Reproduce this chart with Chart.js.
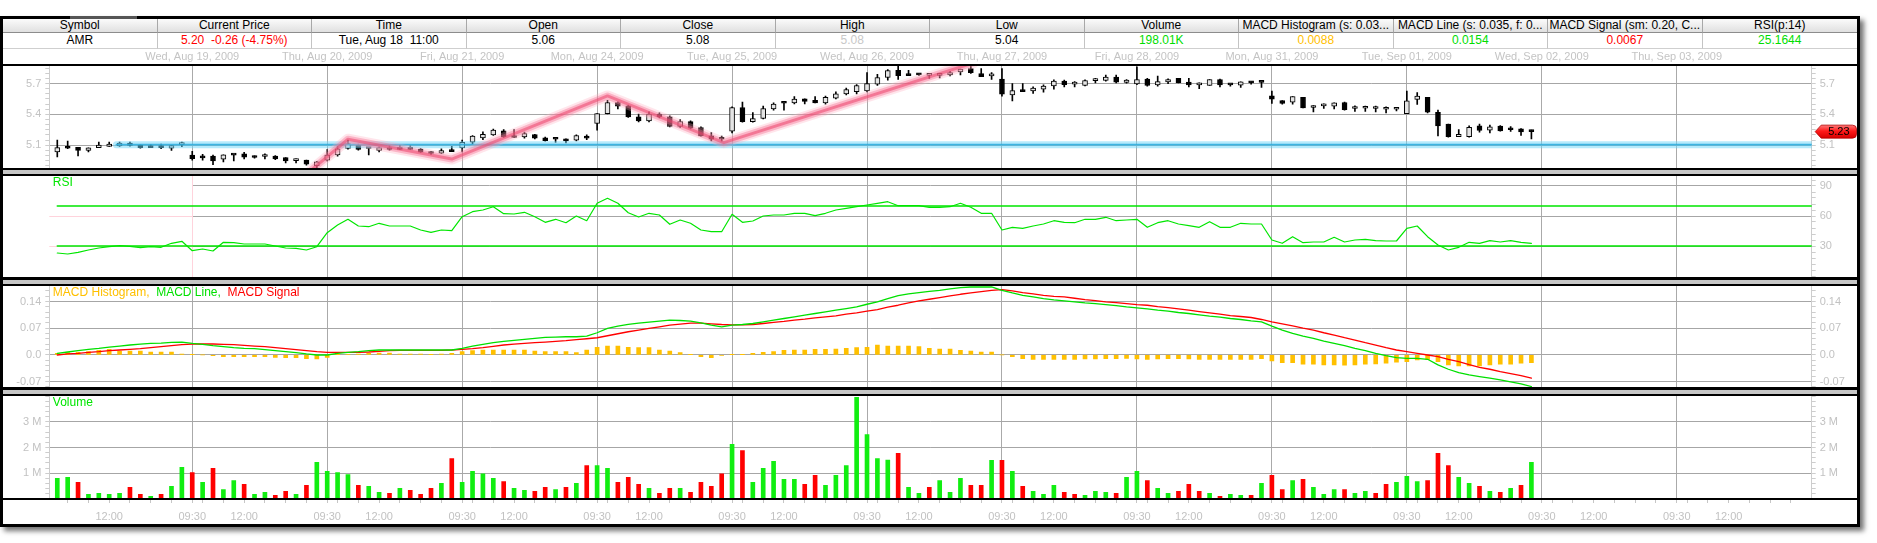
<!DOCTYPE html>
<html><head><meta charset="utf-8">
<script src="https://cdn.jsdelivr.net/npm/chart.js@4.4.1/dist/chart.umd.min.js"></script>
<style>
html,body{margin:0;padding:0;background:#fff;}
body{width:1877px;height:543px;overflow:hidden;position:relative;font-family:"Liberation Sans",Arial,sans-serif;}
#frame{position:absolute;left:0;top:16px;width:1854px;height:505px;border:3px solid #000;box-shadow:4px 4px 5px rgba(0,0,0,0.55);background:#fff;}
.hc{position:absolute;box-sizing:border-box;text-align:center;font-size:12px;white-space:pre;overflow:hidden;color:#000;}
.r1{top:19px;height:14px;line-height:13px;background:linear-gradient(#fbfbfb,#e0e0e0);border-right:1px solid #a8a8a8;border-bottom:1px solid #8c8c8c;}
.r2{top:33px;height:16px;line-height:15px;background:#fff;border-right:1px solid #c4c4c4;border-bottom:1px solid #cfcfcf;}
canvas{position:absolute;left:3px;}
.sb{position:absolute;left:3px;width:1854px;background:#000;}
.sg{position:absolute;left:3px;width:1854px;background:#c6c6c6;}
</style></head><body>
<div id="frame"></div>
<div style="position:absolute;left:70px;top:16px;width:67px;height:4px;background:#555;"></div>
<div id="hdr"></div>
<canvas id="cPrice" width="1854" height="120" style="top:48px"></canvas>
<canvas id="cRsi" width="1854" height="101" style="top:176px"></canvas>
<canvas id="cMacd" width="1854" height="101" style="top:286px"></canvas>
<canvas id="cVol" width="1854" height="126" style="top:396px"></canvas>
<div class="sb" style="top:64px;height:2px"></div>
<div class="sb" style="top:168px;height:2px"></div>
<div class="sg" style="top:170px;height:4px"></div>
<div class="sb" style="top:174px;height:2px"></div>
<div class="sb" style="top:277px;height:3px"></div>
<div class="sg" style="top:280px;height:4px"></div>
<div class="sb" style="top:284px;height:2px"></div>
<div class="sb" style="top:387px;height:3px"></div>
<div class="sg" style="top:390px;height:4px"></div>
<div class="sb" style="top:394px;height:2px"></div>
<div class="sb" style="top:498px;height:2px"></div>
<script>
// ---------------- DATA ----------------
const headerTitles = ['Symbol','Current Price','Time','Open','Close','High','Low','Volume','MACD Histogram (s: 0.03...','MACD Line (s: 0.035, f: 0...','MACD Signal (sm: 0.20, C...','RSI(p:14)'];
const headerValues = ['AMR','5.20  -0.26 (-4.75%)','Tue, Aug 18  11:00','5.06','5.08','5.08','5.04','198.01K','0.0088','0.0154','0.0067','25.1644'];
const headerColors = ['#000','#ff0000','#000','#000','#000','#c8c8c8','#000','#00dd00','#ffc000','#00dd00','#ff0000','#00dd00'];

const barsPerDay = 13;
const xMin = -0.77, xMax = 169;
const dayNames = ['Tue, Aug 18, 2009','Wed, Aug 19, 2009','Thu, Aug 20, 2009','Fri, Aug 21, 2009','Mon, Aug 24, 2009','Tue, Aug 25, 2009','Wed, Aug 26, 2009','Thu, Aug 27, 2009','Fri, Aug 28, 2009','Mon, Aug 31, 2009','Tue, Sep 01, 2009','Wed, Sep 02, 2009','Thu, Sep 03, 2009'];
const timeTickOffsets = [0,1,3,5,7,9,11];
const timeTickLabels = {0:'09:30', 5:'12:00'};

const opens = [
5.035,5.075,5.08,5.05,5.077,5.087,5.094,5.12,5.1,5.09,5.094,5.07,5.105,
5.003,4.993,4.993,4.964,5.006,5.016,4.993,4.99,4.993,4.98,4.95,4.954,4.9,
4.954,5.006,5.068,5.1,5.07,5.048,5.07,5.061,5.061,5.061,5.035,5.022,5.048,
5.074,5.129,5.171,5.2,5.24,5.184,5.181,5.204,5.171,5.162,5.162,5.149,5.188,
5.311,5.408,5.516,5.483,5.376,5.337,5.402,5.376,5.282,5.33,5.272,5.19,5.162,
5.236,5.467,5.33,5.36,5.454,5.512,5.512,5.551,5.538,5.512,5.558,5.6,5.622,
5.629,5.694,5.759,5.83,5.785,5.798,5.78,5.78,5.785,5.814,5.847,5.798,5.775,
5.743,5.59,5.632,5.629,5.645,5.678,5.723,5.695,5.681,5.728,5.73,5.762,5.71,
5.697,5.743,5.688,5.717,5.75,5.714,5.688,5.681,5.74,5.69,5.684,5.72,5.714,
5.58,5.535,5.519,5.567,5.467,5.483,5.48,5.516,5.457,5.46,5.457,5.45,5.45,
5.408,5.545,5.567,5.421,5.305,5.184,5.184,5.288,5.246,5.285,5.266,5.259,5.246];
const highs = [
5.149,5.14,5.08,5.075,5.13,5.13,5.13,5.13,5.103,5.106,5.11,5.097,5.13,
5.04,5.01,5.003,5.006,5.006,5.03,4.996,5.016,5.0,4.98,4.967,4.954,4.944,
5.058,5.09,5.149,5.11,5.072,5.084,5.097,5.1,5.097,5.068,5.038,5.064,5.09,
5.149,5.194,5.23,5.256,5.253,5.253,5.227,5.207,5.178,5.162,5.162,5.2,5.2,
5.408,5.538,5.522,5.49,5.402,5.425,5.415,5.386,5.35,5.337,5.279,5.223,5.188,
5.473,5.519,5.418,5.48,5.512,5.512,5.574,5.551,5.574,5.577,5.62,5.655,5.69,
5.807,5.79,5.837,5.87,5.83,5.798,5.798,5.798,5.818,5.84,5.87,5.847,5.808,
5.847,5.7,5.7,5.668,5.688,5.736,5.733,5.72,5.736,5.75,5.782,5.782,5.74,
5.863,5.75,5.772,5.746,5.75,5.75,5.707,5.74,5.743,5.69,5.717,5.72,5.714,
5.626,5.535,5.574,5.567,5.486,5.503,5.512,5.519,5.483,5.48,5.48,5.473,5.467,
5.626,5.613,5.567,5.441,5.305,5.253,5.288,5.305,5.295,5.292,5.282,5.262,5.246];
const lows = [
4.986,5.065,4.995,5.035,5.077,5.087,5.087,5.09,5.07,5.077,5.065,5.05,5.085,
4.954,4.954,4.91,4.938,4.947,4.967,4.974,4.967,4.96,4.928,4.928,4.905,4.873,
4.947,4.993,5.061,5.052,5.006,5.035,5.052,5.058,5.058,5.029,5.009,5.019,5.038,
5.035,5.11,5.155,5.194,5.175,5.175,5.168,5.162,5.139,5.126,5.123,5.142,5.155,
5.246,5.405,5.454,5.37,5.327,5.327,5.366,5.279,5.272,5.259,5.188,5.142,5.139,
5.22,5.324,5.324,5.356,5.441,5.441,5.503,5.503,5.512,5.5,5.551,5.59,5.6,
5.619,5.681,5.733,5.74,5.778,5.78,5.75,5.756,5.775,5.785,5.798,5.766,5.74,
5.577,5.532,5.622,5.603,5.616,5.645,5.668,5.668,5.678,5.707,5.723,5.707,5.704,
5.69,5.675,5.675,5.7,5.707,5.668,5.65,5.681,5.668,5.675,5.662,5.694,5.662,
5.506,5.5,5.5,5.464,5.425,5.457,5.454,5.441,5.428,5.428,5.425,5.415,5.434,
5.408,5.496,5.415,5.19,5.178,5.184,5.178,5.227,5.22,5.236,5.233,5.194,5.162];
const closes = [
5.077,5.07,5.05,5.075,5.1,5.11,5.12,5.097,5.077,5.077,5.077,5.097,5.107,
4.97,4.977,4.947,5.006,5.003,4.983,4.98,4.993,4.967,4.947,4.952,4.915,4.937,
5.003,5.064,5.116,5.058,5.068,5.077,5.058,5.06,5.06,5.032,5.019,5.048,5.038,
5.129,5.188,5.207,5.246,5.181,5.175,5.214,5.168,5.145,5.158,5.142,5.194,5.168,
5.408,5.516,5.48,5.376,5.337,5.402,5.376,5.282,5.33,5.266,5.19,5.158,5.158,
5.467,5.33,5.36,5.457,5.5,5.508,5.548,5.525,5.512,5.567,5.6,5.642,5.681,
5.7,5.759,5.827,5.778,5.778,5.785,5.782,5.785,5.808,5.84,5.805,5.766,5.775,
5.597,5.632,5.622,5.655,5.675,5.723,5.69,5.697,5.73,5.73,5.762,5.714,5.733,
5.74,5.681,5.72,5.74,5.707,5.688,5.69,5.74,5.688,5.688,5.717,5.707,5.712,
5.548,5.506,5.574,5.464,5.469,5.485,5.512,5.447,5.459,5.462,5.459,5.452,5.452,
5.532,5.577,5.421,5.288,5.184,5.207,5.275,5.243,5.279,5.24,5.25,5.23,5.232];

const zigzagX = [24.5, 28, 38, 53, 64.2, 88.2];
const zigzagY = [4.86, 5.158, 4.965, 5.58, 5.125, 5.90];
const supportLevel = 5.105, supportStartX = 5.7;

const rsi = [
23,22,23.7,26,28,29.3,30.3,29.7,28.3,29.3,28.7,32.7,34.7,
25.3,27,25,33.7,33.3,32,32,32,30,28,27.7,26,29.3,
43.3,51,56.7,50,49.3,52.7,50,50,50,46,43.7,46,45.3,
59.3,64.3,66,69.3,62.3,62,63.7,59.3,53.7,56.7,53.3,60,55.3,
72.7,77.7,72.7,63.3,59,62.7,61,51.7,56,52.7,46,44.3,44.3,
61.7,53.7,55,60,61,61,62.7,62.7,60.3,62.7,66,67.7,69.3,
71,72.7,74.3,70.3,70.3,70.3,68.7,68.7,69.3,72.7,68.7,62.7,62.7,
46,48.7,47.7,50,52,55.3,53.7,53.3,56.7,56.7,58.7,55.3,56,
56.7,48.7,53.3,55.3,52,50.3,48.7,54.3,48.7,48.7,52.7,52,52,
36,32.7,39.3,33.3,34,34,38.7,34,36,36.7,35.3,35,35,
47.7,50,39.3,31,26,28.7,33.7,32.7,35.3,34,35.3,33.7,32.7];
const rsiBands = [70, 30];

const macdLine = [
0.0041,0.0076,0.0111,0.0145,0.0172,0.0206,0.0232,0.0259,0.0285,0.0302,0.0311,0.0328,0.0337,
0.0302,0.0276,0.0241,0.0215,0.0189,0.0172,0.0163,0.0137,0.0111,0.0084,0.0058,0.0024,-0.0003,
-0.0003,0.0041,0.0067,0.0084,0.0111,0.0128,0.0128,0.0128,0.0128,0.0128,0.0128,0.0128,0.0128,
0.0172,0.0232,0.0276,0.0320,0.0354,0.0380,0.0407,0.0433,0.0459,0.0468,0.0476,0.0476,0.0494,
0.0581,0.0694,0.0755,0.0798,0.0833,0.0859,0.0885,0.0912,0.0903,0.0885,0.0842,0.0781,0.0737,
0.0781,0.0798,0.0824,0.0868,0.0912,0.0955,0.0999,0.1042,0.1086,0.1129,0.1173,0.1216,0.1260,
0.1329,0.1390,0.1477,0.1556,0.1599,0.1634,0.1669,0.1695,0.1730,0.1765,0.1782,0.1782,0.1782,
0.1695,0.1625,0.1564,0.1521,0.1477,0.1443,0.1416,0.1390,0.1364,0.1347,0.1321,0.1295,0.1260,
0.1234,0.1208,0.1173,0.1147,0.1112,0.1086,0.1051,0.1016,0.0990,0.0955,0.0929,0.0894,0.0868,
0.0755,0.0650,0.0563,0.0494,0.0433,0.0363,0.0302,0.0241,0.0172,0.0111,0.0041,-0.0020,-0.0072,
-0.0090,-0.0090,-0.0116,-0.0264,-0.0377,-0.0464,-0.0525,-0.0568,-0.0612,-0.0656,-0.0708,-0.0760,-0.0830];
const macdSignal = [
-0.0003,0.0024,0.0041,0.0067,0.0084,0.0111,0.0128,0.0145,0.0163,0.0189,0.0215,0.0241,0.0267,
0.0285,0.0285,0.0285,0.0276,0.0267,0.0250,0.0232,0.0215,0.0189,0.0163,0.0137,0.0111,0.0084,
0.0067,0.0067,0.0067,0.0067,0.0076,0.0093,0.0111,0.0119,0.0119,0.0119,0.0119,0.0119,0.0128,
0.0145,0.0163,0.0189,0.0224,0.0259,0.0285,0.0302,0.0320,0.0337,0.0354,0.0372,0.0398,0.0424,
0.0450,0.0502,0.0555,0.0607,0.0650,0.0694,0.0737,0.0781,0.0807,0.0833,0.0833,0.0816,0.0798,
0.0790,0.0790,0.0798,0.0824,0.0851,0.0877,0.0912,0.0938,0.0972,0.0999,0.1025,0.1068,0.1103,
0.1147,0.1190,0.1251,0.1303,0.1364,0.1416,0.1460,0.1504,0.1547,0.1591,0.1625,0.1660,0.1695,
0.1712,0.1678,0.1634,0.1599,0.1564,0.1538,0.1521,0.1486,0.1451,0.1425,0.1390,0.1373,0.1347,
0.1321,0.1303,0.1268,0.1242,0.1208,0.1173,0.1138,0.1103,0.1068,0.1033,0.1007,0.0981,0.0929,
0.0868,0.0816,0.0763,0.0703,0.0650,0.0581,0.0520,0.0450,0.0389,0.0320,0.0259,0.0189,0.0128,
0.0084,0.0041,-0.0003,-0.0046,-0.0116,-0.0177,-0.0255,-0.0325,-0.0377,-0.0438,-0.0490,-0.0542,-0.0612];
const macdHist = [
0.0041,0.0058,0.0067,0.0084,0.0119,0.0145,0.0102,0.0102,0.0102,0.0076,0.0076,0.0076,0.0024,
0.0006,0,-0.0020,-0.0046,-0.0046,-0.0046,-0.0046,-0.0046,-0.0064,-0.0072,-0.0072,-0.0098,-0.0107,
-0.0064,0.0006,0.0015,0.0024,0.0041,0.0050,0.0050,0.0024,0.0024,0.0024,0.0006,0.0024,0.0041,
0.0084,0.0111,0.0128,0.0128,0.0128,0.0128,0.0128,0.0102,0.0084,0.0084,0.0084,0.0058,0.0128,
0.0198,0.0232,0.0232,0.0198,0.0189,0.0189,0.0128,0.0102,0.0058,0.0006,-0.0046,-0.0072,-0.0011,
0.0006,0.0006,0.0041,0.0067,0.0084,0.0119,0.0128,0.0128,0.0145,0.0145,0.0154,0.0172,0.0189,
0.0198,0.0259,0.0232,0.0232,0.0232,0.0215,0.0172,0.0154,0.0154,0.0119,0.0102,0.0076,0.0076,
0,-0.0046,-0.0098,-0.0116,-0.0116,-0.0116,-0.0116,-0.0116,-0.0107,-0.0107,-0.0098,-0.0098,-0.0090,
-0.0107,-0.0116,-0.0107,-0.0098,-0.0098,-0.0107,-0.0116,-0.0116,-0.0116,-0.0116,-0.0116,-0.0116,-0.0098,
-0.0159,-0.0203,-0.0203,-0.0246,-0.0246,-0.0264,-0.0264,-0.0272,-0.0264,-0.0246,-0.0238,-0.0220,-0.0194,
-0.0177,-0.0133,-0.0116,-0.0177,-0.0264,-0.0290,-0.0290,-0.0290,-0.0264,-0.0246,-0.0246,-0.0220,-0.0203];

const volumes = [
0.8,0.84,0.65,0.18,0.22,0.18,0.22,0.45,0.18,0.1,0.18,0.49,1.23,
1.03,0.65,1.19,0.37,0.72,0.57,0.18,0.26,0.14,0.3,0.18,0.53,1.42,
1.07,1.03,0.95,0.53,0.49,0.26,0.22,0.41,0.34,0.18,0.41,0.61,1.57,
0.65,1.07,0.98,0.8,0.68,0.41,0.34,0.3,0.45,0.37,0.45,0.61,1.3,
1.3,1.19,0.65,0.84,0.57,0.41,0.22,0.41,0.41,0.26,0.65,0.49,0.98,
2.12,1.88,0.65,1.19,1.46,0.76,0.76,0.57,0.92,0.53,0.92,1.3,3.95,
2.5,1.57,1.51,1.77,0.45,0.22,0.45,0.72,0.26,0.8,0.53,0.53,1.5,
1.5,1.07,0.49,0.3,0.18,0.53,0.26,0.18,0.14,0.3,0.26,0.22,0.84,
1.07,0.72,0.41,0.22,0.3,0.57,0.3,0.22,0.1,0.18,0.14,0.14,0.61,
0.92,0.37,0.72,0.76,0.45,0.18,0.37,0.37,0.22,0.3,0.22,0.57,0.65,
0.88,0.68,0.72,1.77,1.3,0.84,0.61,0.49,0.3,0.26,0.41,0.53,1.42];
const volumeUp = [
1,1,0,1,1,1,1,0,0,1,0,1,1,
0,1,0,1,1,0,1,1,0,0,1,0,1,
1,1,1,0,1,1,0,1,0,0,0,1,0,
1,1,1,1,0,1,1,0,0,1,0,1,0,
1,1,0,0,0,1,0,0,1,0,0,0,0,
1,0,1,1,1,1,1,0,0,1,1,1,1,
1,1,1,0,1,1,0,1,1,1,0,0,1,
0,1,0,1,1,1,0,0,1,1,1,0,1,
1,0,1,1,0,0,0,1,0,1,1,0,1,
0,0,1,0,1,1,1,0,1,1,0,0,1,
1,1,0,0,0,1,1,0,1,0,1,0,1];

const priceRange = [4.878, 5.871];
const rsiRange = [-1, 100];
const macdRange = [-0.0843, 0.1808];
const volRange = [0, 4];
const priceTickSpec = {step:0.05, majors:[5.1,5.4,5.7], labels:['5.1','5.4','5.7']};
const rsiTickSpec = {step:6, majors:[30,60,90], labels:['30','60','90']};
const macdTickSpec = {step:0.014, majors:[-0.07,0,0.07,0.14], labels:['-0.07','0.0','0.07','0.14']};
const volTickSpec = {step:0.2, majors:[1,2,3], labels:['1 M','2 M','3 M']};

// ---------------- HEADER ----------------
(function(){
  const hdr = document.getElementById('hdr');
  const cw = 1854/12;
  headerTitles.forEach((t,i)=>{
    const a = document.createElement('div');
    a.className='hc r1'; a.style.left=(3+i*cw)+'px'; a.style.width=cw+'px';
    if(i===11) a.style.borderRight='none';
    a.textContent=t; hdr.appendChild(a);
    const b = document.createElement('div');
    b.className='hc r2'; b.style.left=(3+i*cw)+'px'; b.style.width=cw+'px';
    if(i===11) b.style.borderRight='none';
    b.style.color=headerColors[i]; b.textContent=headerValues[i]; hdr.appendChild(b);
  });
})();

// ---------------- HELPERS ----------------
const FONT_FAMILY = '"Liberation Sans", Arial, sans-serif';
const TICK_FONT = {family:FONT_FAMILY, size:11};
const TICK_COLOR = '#c2c2c2', AXIS_COLOR = '#cdcdcd', GRID_COLOR = '#a6a6a6', VGRID_COLOR = '#aaaaaa';
const GREEN = '#00e600', RED = '#ff0000', ORANGE = '#ffc000';
const LEFT_W = 46.3, RIGHT_W = 45.3;
const N = opens.length;
const idx = Array.from({length:N}, (_, i) => i);

const xTickValues = [];
for (let d = 0; d < dayNames.length; d++) {
  for (const o of timeTickOffsets) {
    const v = d*barsPerDay + o;
    if (v > 0 && v < xMax) xTickValues.push(v);
  }
}
function timeLabel(v){ const off = ((Math.round(v) % barsPerDay) + barsPerDay) % barsPerDay; return timeTickLabels[off] || ''; }

function makeTicks(range, spec){
  const out = [];
  const k0 = Math.ceil(range[0]/spec.step - 1e-9), k1 = Math.floor(range[1]/spec.step + 1e-9);
  for (let k = k0; k <= k1; k++) {
    const v = +(k*spec.step).toFixed(6);
    const mi = spec.majors.findIndex(m => Math.abs(m - v) < 1e-6);
    out.push({value:v, maj: mi >= 0, lbl: mi >= 0 ? spec.labels[mi] : ''});
  }
  return out;
}

function xAxis(withLabels){
  return {
    type:'linear', min:xMin, max:xMax, offset:false,
    afterBuildTicks: s => { s.ticks = xTickValues.map(v => ({value:v})); },
    grid:{ offset:false, drawOnChartArea:true,
      color: c => (c.tick && Math.round(c.tick.value) % barsPerDay === 0) ? VGRID_COLOR : 'rgba(0,0,0,0)',
      lineWidth:1, drawTicks: withLabels, tickLength:4, tickColor:'#c6c6c6' },
    border:{display:false},
    ticks:{ display: withLabels, autoSkip:false, maxRotation:0, minRotation:0, padding:7,
      color:TICK_COLOR, font:TICK_FONT, callback: v => timeLabel(v) },
    afterFit: s => { s.height = withLabels ? 23 : 0; s.paddingLeft = 0; s.paddingRight = 0; }
  };
}

function yAxis(side, range, spec, hidden){
  return {
    type:'linear', position:side, min:range[0], max:range[1],
    afterBuildTicks: s => { s.ticks = makeTicks(range, spec); },
    grid:{ drawOnChartArea: side === 'left',
      color: c => (c.tick && c.tick.maj) ? GRID_COLOR : 'rgba(0,0,0,0)',
      lineWidth:1, drawTicks: !hidden, tickLength:4, tickColor: AXIS_COLOR },
    border:{ display: !hidden, color: AXIS_COLOR, width:1 },
    ticks:{ display: !hidden, autoSkip:false, padding:4, color:TICK_COLOR, font:TICK_FONT,
      callback: (v, i, t) => (t[i] && t[i].lbl) ? t[i].lbl : '' },
    afterFit: s => { s.width = side === 'left' ? LEFT_W : RIGHT_W; s.paddingTop = 0; s.paddingBottom = 0; }
  };
}

function baseOptions(scales, padTop){
  return {
    responsive:false, animation:false, devicePixelRatio:1, events:[],
    layout:{padding:{top:padTop||0, bottom:0, left:0, right:0}},
    plugins:{legend:{display:false}, tooltip:{enabled:false}, title:{display:false}},
    scales
  };
}

function labelPlugin(items){
  return { id:'panelLabel', afterDatasetsDraw(chart){
    const {ctx, chartArea} = chart;
    ctx.save();
    ctx.font = '12px ' + FONT_FAMILY; ctx.textBaseline = 'top'; ctx.textAlign = 'left';
    let x = chartArea.left + 3.5;
    items.forEach(it => { ctx.fillStyle = it.color; ctx.fillText(it.text, x, chartArea.top + 1); x += ctx.measureText(it.text).width; });
    ctx.restore();
  }};
}

function lineDs(data, color, width, order){
  return {type:'line', data, borderColor:color, borderWidth:width, pointRadius:0, tension:0,
    fill:false, clip:0, order, borderJoinStyle:'round', borderCapStyle:'round'};
}

// ---------------- PRICE ----------------
const wickData = idx.map(i => ({x:i, y:[lows[i], highs[i]]}));
const bodyData = idx.map(i => ({x:i, y:[opens[i], closes[i]]}));
const zigData = zigzagX.map((x, i) => ({x, y:zigzagY[i]}));
const supportData = [{x:supportStartX, y:supportLevel}, {x:xMax, y:supportLevel}];
const lastClose = closes[N-1];

const datePlugin = { id:'dates', afterDraw(chart){
  const {ctx, chartArea, scales} = chart;
  ctx.save();
  ctx.font = '11px ' + FONT_FAMILY; ctx.fillStyle = '#c4c4c4';
  ctx.textAlign = 'center'; ctx.textBaseline = 'middle';
  dayNames.forEach((n, d) => { if (d === 0) return; ctx.fillText(n, scales.x.getPixelForValue(d*barsPerDay), chartArea.top - 9); });
  ctx.restore();
}};
const tagPlugin = { id:'lastTag', afterDraw(chart){
  const {ctx, chartArea, scales} = chart;
  const y = scales.yR.getPixelForValue(lastClose);
  const x0 = chartArea.right + 3.5, x1 = chart.width - 0.5, h = 6.5;
  ctx.save();
  const g = ctx.createLinearGradient(0, y-h, 0, y+h);
  g.addColorStop(0, '#ff7a7a'); g.addColorStop(0.45, '#ff1a1a'); g.addColorStop(1, '#d80000');
  ctx.beginPath();
  ctx.moveTo(x0, y);
  ctx.lineTo(x0 + 6, y - h);
  ctx.lineTo(x1 - 4, y - h);
  ctx.quadraticCurveTo(x1, y - h, x1, y - h + 4);
  ctx.lineTo(x1, y + h - 4);
  ctx.quadraticCurveTo(x1, y + h, x1 - 4, y + h);
  ctx.lineTo(x0 + 6, y + h);
  ctx.closePath();
  ctx.fillStyle = g; ctx.fill();
  ctx.strokeStyle = '#b00000'; ctx.lineWidth = 0.8; ctx.stroke();
  ctx.fillStyle = '#000'; ctx.font = '11px ' + FONT_FAMILY; ctx.textAlign = 'center'; ctx.textBaseline = 'middle';
  ctx.fillText(lastClose.toFixed(2), (x0 + 6 + x1)/2, y + 0.5);
  ctx.restore();
}};

new Chart(document.getElementById('cPrice'), {
  type:'bar',
  data:{ datasets:[
    lineDs(zigData, 'rgba(236,70,110,0.55)', 3, 0),
    lineDs(zigData, 'rgba(245,110,145,0.40)', 7, 1),
    lineDs(zigData, 'rgba(255,170,190,0.30)', 11, 2),
    lineDs(supportData, 'rgba(40,170,220,0.85)', 1.8, 3),
    lineDs(supportData, 'rgba(110,215,250,0.50)', 7, 4),
    {type:'bar', data:bodyData, barThickness:5, grouped:false, minBarLength:2,
      backgroundColor: c => (closes[c.dataIndex] >= opens[c.dataIndex]) ? '#e4e4e4' : '#000',
      borderColor:'#000', borderWidth:1, borderSkipped:false, order:5},
    {type:'bar', data:wickData, barThickness:1, grouped:false, minBarLength:1,
      backgroundColor:'#000', borderWidth:0, order:6}
  ]},
  options: baseOptions({ x:xAxis(false), y:yAxis('left', priceRange, priceTickSpec, false), yR:yAxis('right', priceRange, priceTickSpec, false) }, 18),
  plugins:[datePlugin, tagPlugin]
});

// ---------------- RSI ----------------
const rsiData = idx.map(i => ({x:i, y:rsi[i]}));
const rsiRegionPlugin = { id:'rsiRegion', beforeDatasetsDraw(chart){
  const {ctx, chartArea, scales} = chart;
  const xr = scales.x.getPixelForValue(barsPerDay);
  ctx.save();
  ctx.fillStyle = '#fff';
  ctx.fillRect(chartArea.left - 1, chartArea.top, xr - chartArea.left + 1, chartArea.bottom - chartArea.top);
  ctx.strokeStyle = '#ffd3dc'; ctx.lineWidth = 1;
  [60, 30].forEach(v => { const y = Math.round(scales.y.getPixelForValue(v)) + 0.5; ctx.beginPath(); ctx.moveTo(chartArea.left, y); ctx.lineTo(xr, y); ctx.stroke(); });
  ctx.beginPath(); ctx.moveTo(Math.round(xr) + 0.5, chartArea.top); ctx.lineTo(Math.round(xr) + 0.5, chartArea.bottom); ctx.stroke();
  ctx.restore();
}};
new Chart(document.getElementById('cRsi'), {
  type:'line',
  data:{ datasets:[
    lineDs(rsiData, GREEN, 1.2, 0),
    ...rsiBands.map(b => lineDs([{x:0, y:b}, {x:xMax, y:b}], GREEN, 1.6, 1))
  ]},
  options: baseOptions({ x:xAxis(false), y:yAxis('left', rsiRange, rsiTickSpec, true), yR:yAxis('right', rsiRange, rsiTickSpec, false) }),
  plugins:[rsiRegionPlugin, labelPlugin([{text:'RSI', color:GREEN}])]
});

// ---------------- MACD ----------------
new Chart(document.getElementById('cMacd'), {
  type:'bar',
  data:{ datasets:[
    lineDs(idx.map(i => ({x:i, y:macdLine[i]})), '#00e000', 1.3, 0),
    lineDs(idx.map(i => ({x:i, y:macdSignal[i]})), RED, 1.3, 1),
    {type:'bar', data:idx.map(i => ({x:i, y:macdHist[i]})), barThickness:4, grouped:false,
      backgroundColor:ORANGE, borderWidth:0, order:2}
  ]},
  options: baseOptions({ x:xAxis(false), y:yAxis('left', macdRange, macdTickSpec, false), yR:yAxis('right', macdRange, macdTickSpec, false) }),
  plugins:[labelPlugin([{text:'MACD Histogram,  ', color:ORANGE}, {text:'MACD Line,  ', color:'#00e000'}, {text:'MACD Signal', color:RED}])]
});

// ---------------- VOLUME ----------------
new Chart(document.getElementById('cVol'), {
  type:'bar',
  data:{ datasets:[
    {type:'bar', data:idx.map(i => ({x:i, y:volumes[i]})), barThickness:4, grouped:false,
      backgroundColor: c => volumeUp[c.dataIndex] ? '#11ee11' : '#ff0000', borderWidth:0, order:0}
  ]},
  options: baseOptions({ x:xAxis(true), y:yAxis('left', volRange, volTickSpec, false), yR:yAxis('right', volRange, volTickSpec, false) }),
  plugins:[labelPlugin([{text:'Volume', color:GREEN}])]
});
</script>
</body></html>
